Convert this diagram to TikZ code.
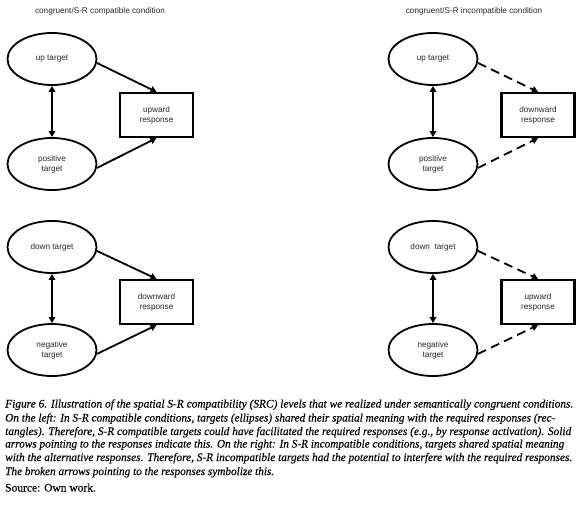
\documentclass[tikz,border=0pt]{standalone}
\usepackage{fontspec}
\usepackage{graphicx}
\setmainfont{Liberation Sans}
\newfontfamily\capfont[FakeBold=0.2]{Liberation Serif}
\usetikzlibrary{arrows.meta,shapes.geometric}
\newcommand{\capline}[2]{\resizebox{#1}{\height}{#2}}
\begin{document}
\begin{tikzpicture}[x=1pt,y=-1pt,
  lbl/.style={font=\fontsize{8.2}{10}\selectfont,text=black!85,align=center},
  target/.style={ellipse,draw,line width=1.8pt,minimum width=89pt,minimum height=52pt,inner sep=0pt,lbl},
  resp/.style={rectangle,draw,line width=2.2pt,minimum width=73pt,minimum height=44pt,inner sep=0pt,lbl},
  link/.style={line width=1.8pt,-{Triangle[length=6pt,width=6.5pt]}},
  both/.style={line width=1.8pt,{Triangle[length=6pt,width=6.5pt]}-{Triangle[length=6pt,width=6.5pt]}},
  broken/.style={link,dash pattern=on 9pt off 5.5pt},
  title/.style={lbl},
  captext/.style={anchor=base west,inner sep=0pt,font=\capfont\fontsize{11.5}{14}\selectfont\itshape,text=black}
]
\useasboundingbox (0,0) rectangle (580,505);

% titles
\node[title] (t1) at (100,11) {congruent/S-R compatible condition};
\node[title] (t2) at (474,11) {congruent/S-R incompatible condition};

% top-left
\node[target] (ul) at (52,59) {up target};
\node[target] (pl) at (52,164) {positive\\target};
\node[resp] (rl) at (156.5,115) {upward\\response};
\draw[both] (ul.south) -- (pl.north);
\draw[link] (ul.-5) -- (rl.north);
\draw[link] (pl.-5) -- (rl.south);

% top-right
\node[target] (ur) at (433,59) {up target};
\node[target] (pr) at (433,164) {positive\\target};
\node[resp] (rr) at (538,115) {downward\\response};
\draw[both] (ur.south) -- (pr.north);
\draw[broken] (ur.-5) -- (rr.north);
\draw[broken] (pr.-5) -- (rr.south);

% bottom-left
\node[target] (dl) at (52,247) {down target};
\node[target] (nl) at (52,350) {negative\\target};
\node[resp] (sl) at (156.5,302) {downward\\response};
\draw[both] (dl.south) -- (nl.north);
\draw[link] (dl.-5) -- (sl.north);
\draw[link] (nl.-5) -- (sl.south);

% bottom-right
\node[target] (dr) at (433,247) {down\ \ target};
\node[target] (nr) at (433,350) {negative\\target};
\node[resp] (sr) at (538,302) {upward\\response};
\draw[both] (dr.south) -- (nr.north);
\draw[broken] (dr.-5) -- (sr.north);
\draw[broken] (nr.-5) -- (sr.south);

% caption
\node[captext] (c1) at (5,407.5) {\capline{568pt}{Figure 6. Illustration of the spatial S-R compatibility (SRC) levels that we realized under semantically congruent conditions.}};
\node[captext] (c2) at (5,421.5) {\capline{550pt}{On the left: In S-R compatible conditions, targets (ellipses) shared their spatial meaning with the required responses (rec-}};
\node[captext] (c3) at (5,435) {\capline{566pt}{tangles). Therefore, S-R compatible targets could have facilitated the required responses (e.g., by response activation). Solid}};
\node[captext] (c4) at (5,447.5) {\capline{559pt}{arrows pointing to the responses indicate this. On the right: In S-R incompatible conditions, targets shared spatial meaning}};
\node[captext] (c5) at (5,461) {\capline{567pt}{with the alternative responses. Therefore, S-R incompatible targets had the potential to interfere with the required responses.}};
\node[captext] (c6) at (5,475) {\capline{269pt}{The broken arrows pointing to the responses symbolize this.}};
\node[captext,font=\capfont\fontsize{11.5}{14}\selectfont] (c7) at (5,491.5) {Source: Own work.};
\end{tikzpicture}
\end{document}
